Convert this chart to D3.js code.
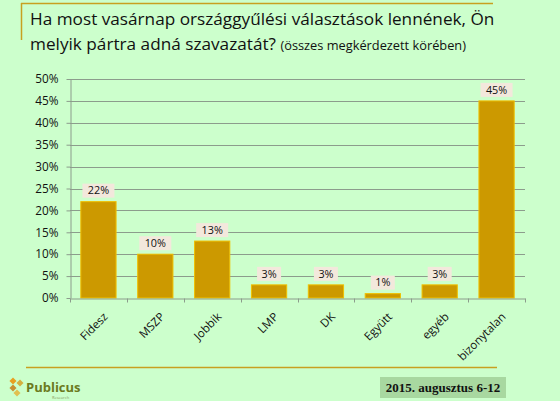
<!DOCTYPE html>
<html>
<head>
<meta charset="utf-8">
<script src="https://cdn.jsdelivr.net/npm/d3@7"></script>
<style>
  body { margin: 0; background: #ccffcc; }
  svg { display: block; }
</style>
</head>
<body>
<div id="chart"></div>
<script>
// adatok
var parties = ["Fidesz", "MSZP", "Jobbik", "LMP", "DK", "Együtt", "egyéb", "bizonytalan"];
var shares = [22, 10, 13, 3, 3, 1, 3, 45];
var yTicks = [0, 5, 10, 15, 20, 25, 30, 35, 40, 45, 50];

var width = 560, height = 401;
var plot = {left: 70, right: 525, top: 79, bottom: 298};

var svg = d3.select("#chart")
    .append("svg")
    .attr("width", width)
    .attr("height", height);

svg.append("rect")
    .attr("width", width)
    .attr("height", height)
    .attr("fill", "#ccffcc");

// keret vonalak fent
svg.append("line")
    .attr("x1", 21).attr("y1", 3.5).attr("x2", 493).attr("y2", 3.5)
    .attr("stroke", "#c8a020").attr("stroke-width", 1.5);
svg.append("line")
    .attr("x1", 21.5).attr("y1", 3).attr("x2", 21.5).attr("y2", 40)
    .attr("stroke", "#c8a020").attr("stroke-width", 1.5);

// cím
svg.append("text")
    .attr("x", 30).attr("y", 25)
    .attr("font-family", "Open Sans, sans-serif")
    .attr("font-size", "17.2px")
    .attr("fill", "#111")
    .text("Ha most vasárnap országgyűlési választások lennének, Ön");
var t2 = svg.append("text")
    .attr("x", 30).attr("y", 50)
    .attr("font-family", "Open Sans, sans-serif")
    .attr("font-size", "17.2px")
    .attr("fill", "#111");
t2.append("tspan").text("melyik pártra adná szavazatát? ");
t2.append("tspan").attr("font-size", "12.8px").text("(összes megkérdezett körében)");

// skálák
var x = d3.scaleBand()
    .domain(parties)
    .range([plot.left, plot.right])
    .paddingInner(0.38)
    .paddingOuter(0.19);

var y = d3.scaleLinear()
    .domain([0, 50])
    .range([plot.bottom, plot.top]);

// rács
svg.append("g")
    .selectAll("line")
    .data(yTicks.slice(1))
    .enter()
    .append("line")
    .attr("x1", plot.left).attr("x2", plot.right)
    .attr("y1", function (d) { return Math.round(y(d)) + 0.5; })
    .attr("y2", function (d) { return Math.round(y(d)) + 0.5; })
    .attr("stroke", "#8c9c8c")
    .attr("stroke-width", 1);

// y tengely
var yAxis = svg.append("g")
    .attr("transform", "translate(" + (plot.left + 0.5) + ",0)")
    .call(d3.axisLeft(y).tickValues(yTicks).tickSize(4).tickSizeOuter(0)
        .tickFormat(function (d) { return d + "%"; }));
yAxis.select(".domain").attr("stroke", "#8c9c8c");
yAxis.selectAll(".tick line").attr("stroke", "#8c9c8c");
yAxis.selectAll("text")
    .attr("font-family", "Open Sans, sans-serif")
    .attr("font-size", "11.8px")
    .attr("fill", "#111")
    .attr("x", -12);

// oszlopok
svg.append("g")
    .selectAll("rect")
    .data(parties)
    .enter()
    .append("rect")
    .attr("x", function (d) { return x(d); })
    .attr("y", function (d, i) { return y(shares[i]); })
    .attr("width", x.bandwidth())
    .attr("height", function (d, i) { return plot.bottom - y(shares[i]); })
    .attr("fill", "#cc9900")
    .attr("stroke", "#f0c000")
    .attr("stroke-width", 1);

// x tengely
var xAxis = svg.append("g")
    .attr("transform", "translate(0," + (plot.bottom + 0.5) + ")")
    .call(d3.axisBottom(x).tickSize(0).tickSizeOuter(0));
xAxis.select(".domain").attr("stroke", "#8c9c8c");
// tick jelek a sávok határán
var bounds = d3.range(parties.length + 1).map(function (i) {
    return plot.left + i * (plot.right - plot.left) / parties.length;
});
xAxis.selectAll(".sep")
    .data(bounds)
    .enter()
    .append("line")
    .attr("class", "sep")
    .attr("x1", function (d) { return Math.round(d) + 0.5; })
    .attr("x2", function (d) { return Math.round(d) + 0.5; })
    .attr("y1", 0).attr("y2", 4)
    .attr("stroke", "#8c9c8c");
xAxis.selectAll(".tick text")
    .attr("font-family", "Open Sans, sans-serif")
    .attr("font-size", "11.5px")
    .attr("fill", "#111")
    .attr("text-anchor", "end")
    .attr("dy", "0.35em")
    .attr("transform", "translate(5,14) rotate(-45)");

// értékcímkék
var labels = svg.append("g")
    .selectAll("g")
    .data(parties)
    .enter()
    .append("g")
    .attr("transform", function (d, i) {
        return "translate(" + (x(d) + x.bandwidth() / 2) + "," + (y(shares[i]) - 11) + ")";
    });
labels.append("rect")
    .attr("x", function (d, i) { return shares[i] >= 10 ? -16 : -12; })
    .attr("y", -7)
    .attr("width", function (d, i) { return shares[i] >= 10 ? 32 : 24; })
    .attr("height", 14)
    .attr("fill", "#f3e8dc");
labels.append("text")
    .attr("text-anchor", "middle")
    .attr("dy", "0.35em")
    .attr("font-family", "Open Sans, sans-serif")
    .attr("font-size", "10.8px")
    .attr("fill", "#111")
    .text(function (d, i) { return shares[i] + "%"; });

// alsó vonal
svg.append("line")
    .attr("x1", 26).attr("y1", 367.5).attr("x2", 497).attr("y2", 367.5)
    .attr("stroke", "#c8a020").attr("stroke-width", 1.5);

// logó
var logo = svg.append("g").attr("transform", "translate(17,386)");
[[-4, -5, "#e8a020"], [3, -3, "#d4b040"], [-4, 2, "#c89030"], [0, 7, "#e0c050"]].forEach(function (p) {
    logo.append("rect")
        .attr("x", p[0] - 2.5).attr("y", p[1] - 2.5)
        .attr("width", 5).attr("height", 5)
        .attr("fill", p[2])
        .attr("transform", "rotate(45," + p[0] + "," + p[1] + ")");
});
svg.append("text")
    .attr("x", 26).attr("y", 392)
    .attr("font-family", "Open Sans, sans-serif")
    .attr("font-weight", "bold")
    .attr("font-size", "13px")
    .attr("fill", "#6b7a20")
    .text("Publicus");
svg.append("text")
    .attr("x", 52).attr("y", 399)
    .attr("font-family", "Open Sans, sans-serif")
    .attr("font-size", "4px")
    .attr("fill", "#8a9a60")
    .text("Research");

// dátum doboz
svg.append("rect")
    .attr("x", 380).attr("y", 377)
    .attr("width", 126).attr("height", 21)
    .attr("fill", "#a8d8a0");
svg.append("text")
    .attr("x", 443).attr("y", 392)
    .attr("text-anchor", "middle")
    .attr("font-family", "Liberation Serif, serif")
    .attr("font-weight", "bold")
    .attr("font-size", "13px")
    .attr("fill", "#111")
    .text("2015. augusztus 6-12");
</script>
</body>
</html>
